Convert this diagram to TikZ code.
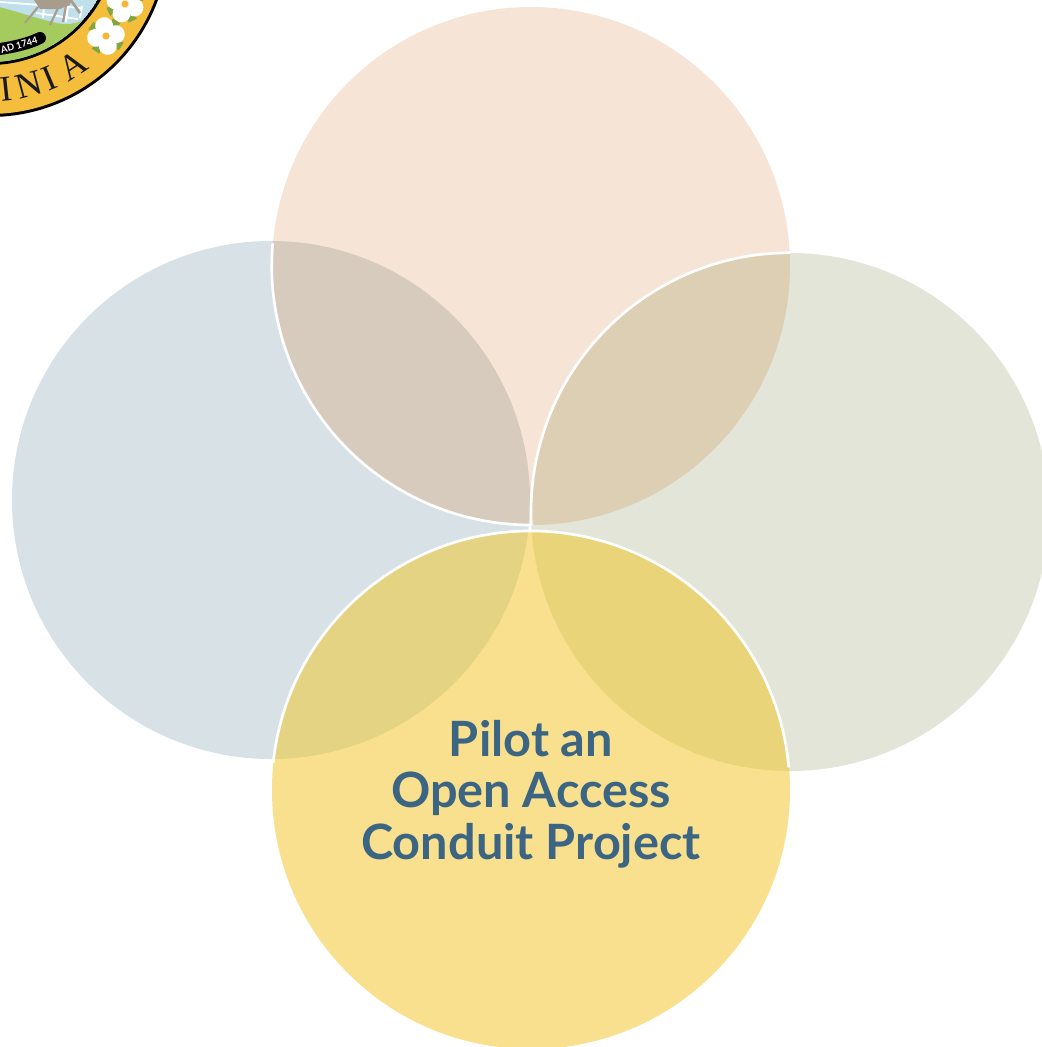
\documentclass[tikz,border=0pt]{standalone}
\usepackage{fontspec}
\setmainfont{Lato}
\newfontfamily\sealfont{Liberation Serif}
\usepackage{tikz}

\definecolor{blueC}{HTML}{D8E1E6}
\definecolor{peachC}{HTML}{F6E5D6}
\definecolor{sageC}{HTML}{E3E5D8}
\definecolor{goldC}{HTML}{F8E08E}
\definecolor{titleC}{HTML}{3B6582}
\definecolor{sealband}{HTML}{F4BE3C}
\definecolor{sealfield}{HTML}{A5CB5E}
\definecolor{sealsky}{HTML}{BFE0EA}
\definecolor{sealhorse}{HTML}{A89C8C}
\definecolor{sealleaf}{HTML}{7FA63F}

\tikzset{
  petal/.style = {circle, fill = #1, minimum size = 388.5pt, inner sep = 0pt},
  rim/.style = {draw = white, line width = 2pt},
  sealletter/.style = {font = \sealfont\fontsize{27}{27}\selectfont, text = black!90, inner sep = 0pt},
  title/.style = {font = \bfseries\fontsize{36.5}{38.6}\selectfont, text = titleC, align = center}
}
\newcommand{\sealflower}[3]{%
  \begin{scope}[shift = {(#1,#2)}, rotate = #3]
    \foreach \a in {45, 135, 225, 315}
      \fill[sealleaf] (0,0) -- (\a-14:19) -- (\a+14:19) -- cycle;
    \foreach \a in {0, 90, 180, 270}
      \fill[white] (\a:10) circle[radius = 9];
    \fill[sealband!85!orange] (0,0) circle[radius = 3.6];
  \end{scope}}

\begin{document}
\begin{tikzpicture}[x = 0.75pt, y = -0.75pt]
  \useasboundingbox (0,0) rectangle (1042,1047);
  \clip (0,0) rectangle (1042,1047);

  % the seal in the corner
  \fill[black] (-10,-62) circle[radius = 179];
  \fill[sealband] (-10,-62) circle[radius = 176];
  \fill[black] (-10,-62) circle[radius = 127];
  \begin{scope}
    \clip (-10,-62) circle[radius = 124];
    \fill[sealsky] (-10,-62) circle[radius = 124];
    \fill[sealfield] (-5,6) .. controls (20,12) and (40,20) .. (62,24)
      .. controls (75,25) and (85,20) .. (95,14) -- (95,80) -- (-5,80) -- cycle;
    \draw[white, line width = 1.4pt] (0,2) -- (82,8) (36,13) -- (78,19);
    \draw[white, line width = 1.4pt] (44,6) -- (43,18) (68,6) -- (66,22) (82,6) -- (80,18);
    \fill[sealhorse] (32,-3) -- (72,-3) -- (70,5) -- (60,9) -- (40,9) -- cycle;
    \draw[sealhorse, line width = 1.6pt] (38,7) -- (25,23) (58,8) -- (50,25) (66,5) -- (63,22);
    \draw[sealhorse, line width = 2pt] (70,-1) -- (80,13);
  \end{scope}
  \draw[black, line width = 9pt, line cap = round] (-8,50) .. controls (10,48) and (28,44) .. (40,38);
  \node[font = \bfseries\fontsize{7}{8}\selectfont, text = white, rotate = 15, inner sep = 0pt] (badge) at (19,45) {AD 1744};
  \node[sealletter, rotate = 33] (letterA) at ({-10+152*cos(57)},{-62+152*sin(57)}) {A};
  \node[sealletter, rotate = 23] (letterI) at ({-10+152*cos(67)},{-62+152*sin(67)}) {I};
  \node[sealletter, rotate = 15] (letterN) at ({-10+152*cos(75)},{-62+152*sin(75)}) {N};
  \node[sealletter, rotate = 6] (letterJ) at ({-10+152*cos(84)},{-62+152*sin(84)}) {I};
  \sealflower{125}{4}{-20}
  \sealflower{106}{36}{10}

  % the four circles
  \node[petal = blueC] (left) at (271,500) {};
  \node[petal = peachC] (top) at (531,266) {};
  \node[petal = sageC] (right) at (790,512) {};
  \node[petal = goldC] (bottom) at (531,790) {};

  % where they overlap
  \begin{scope}
    \clip (top.center) circle[radius = 259];
    \fill[fill = {rgb,255:red,214;green,203;blue,189}] (left.center) circle[radius = 259];
    \fill[fill = {rgb,255:red,220;green,207;blue,179}] (right.center) circle[radius = 259];
  \end{scope}
  \begin{scope}
    \clip (bottom.center) circle[radius = 259];
    \fill[fill = {rgb,255:red,228;green,211;blue,130}] (left.center) circle[radius = 259];
    \fill[fill = {rgb,255:red,233;green,212;blue,122}] (right.center) circle[radius = 259];
  \end{scope}

  % white edges
  \draw[rim] (top.175) arc[start angle = 175, end angle = 270, radius = 194.25pt];
  \draw[rim] (right.90) arc[start angle = 90, end angle = 183, radius = 194.25pt];
  \draw[rim] (bottom.174) arc[start angle = 174, end angle = 5, radius = 194.25pt];

  \node[title] (label) at (531,794) {Pilot an\\Open Access\\Conduit Project};
\end{tikzpicture}
\end{document}
